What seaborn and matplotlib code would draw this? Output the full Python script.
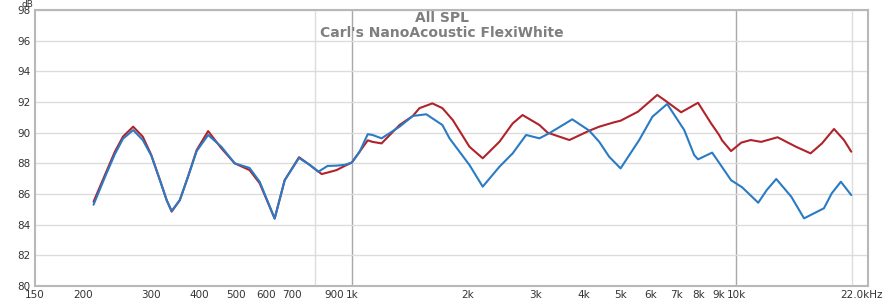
import matplotlib
matplotlib.use("Agg")
import matplotlib.pyplot as plt
import matplotlib.transforms as mtransforms
import seaborn as sns
import pandas as pd

# ---- data ----
red_freq = [213, 228, 242, 254, 270, 286, 301, 317, 330, 340, 357, 375, 395, 423, 458, 496, 542, 576,
            630, 669, 729, 777, 835, 865, 913, 958, 1000, 1048, 1100, 1132, 1195, 1331, 1441, 1500,
            1620, 1720, 1830, 2023, 2190, 2421, 2620, 2780, 3075, 3230, 3680, 4146, 4401, 4800, 5000,
            5550, 6228, 6609, 7186, 7951, 8600, 9020, 9180, 9690, 10300, 10900, 11600, 12800, 14300,
            15600, 16700, 17950, 19050, 19900]
red_db = [85.5, 87.24, 88.76, 89.74, 90.39, 89.74, 88.54, 86.9, 85.6, 84.85, 85.6, 87.13, 88.87, 90.1,
          88.98, 88.0, 87.56, 86.7, 84.4, 86.9, 88.4, 87.9, 87.3, 87.4, 87.56, 87.83, 88.05, 88.76,
          89.5, 89.4, 89.3, 90.5, 91.09, 91.6, 91.91, 91.6, 90.83, 89.08, 88.33, 89.41, 90.6, 91.15,
          90.5, 90.0, 89.52, 90.13, 90.39, 90.67, 90.78, 91.37, 92.46, 92.0, 91.33, 91.95, 90.6,
          89.85, 89.5, 88.8, 89.35, 89.52, 89.4, 89.7, 89.08, 88.65, 89.3, 90.24, 89.52, 88.76]

blue_freq = [213, 228, 242, 254, 270, 286, 301, 317, 330, 340, 357, 375, 395, 423, 458, 496, 542, 576,
             630, 669, 729, 777, 818, 865, 913, 958, 1000, 1048, 1100, 1132, 1195, 1331, 1441, 1562,
             1720, 1795, 2023, 2190, 2421, 2620, 2840, 3075, 3266, 3744, 4146, 4401, 4670, 5000, 5590,
             6050, 6609, 7320, 7770, 7951, 8652, 9690, 10350, 11400, 12000, 12700, 13900, 15000,
             16900, 17700, 18700, 19900]
blue_db = [85.3, 87.1, 88.6, 89.6, 90.17, 89.52, 88.5, 86.9, 85.6, 84.9, 85.6, 87.13, 88.8, 89.85,
           89.08, 88.0, 87.7, 86.8, 84.4, 86.9, 88.35, 87.9, 87.45, 87.83, 87.85, 87.9, 88.05, 88.76,
           89.9, 89.85, 89.63, 90.39, 91.09, 91.2, 90.5, 89.63, 87.89, 86.48, 87.78, 88.65, 89.85,
           89.63, 89.97, 90.87, 90.13, 89.4, 88.43, 87.67, 89.52, 91.04, 91.87, 90.17, 88.54, 88.26,
           88.7, 86.9, 86.44, 85.43, 86.26, 86.98, 85.82, 84.41, 85.07, 86.04, 86.8, 85.93]

series_names = ["Red", "Blue"]
series_colors = ["#b0232a", "#2a7bc4"]

xtick_pos = [150, 200, 300, 400, 500, 600, 700, 900, 1000, 2000, 3000, 4000, 5000, 6000, 7000,
             8000, 9000, 10000, 22000]
xtick_lab = ["150", "200", "300", "400", "500", "600", "700", "900", "1k", "2k", "3k", "4k", "5k",
             "6k", "7k", "8k", "9k", "10k", "22.0kHz"]
xgrid_pos = [200, 300, 400, 500, 600, 700, 800, 900, 1000, 2000, 3000, 4000, 5000, 6000, 7000,
             8000, 9000, 10000, 20000]
ytick_pos = [80, 82, 84, 86, 88, 90, 92, 94, 96, 98]

df = pd.concat([
    pd.DataFrame({"freq": red_freq, "spl": red_db, "series": series_names[0]}),
    pd.DataFrame({"freq": blue_freq, "spl": blue_db, "series": series_names[1]}),
])

sns.set_style("white")
plt.rcParams["font.family"] = ["DejaVu Sans"]

fig = plt.figure(figsize=(8.85, 3.0), dpi=100)
ax = fig.add_axes([35 / 885, 14 / 300, 833 / 885, 276 / 300])

sns.lineplot(data=df, x="freq", y="spl", hue="series", palette=series_colors,
             hue_order=series_names, linewidth=1.5, ax=ax, legend=False, sort=True)

ax.set_xscale("log")
ax.set_xlim(150, 22000)
ax.set_ylim(80, 98)

ax.set_xticks(xtick_pos)
ax.set_xticklabels(xtick_lab)
ax.set_xticks(xgrid_pos, minor=True)
ax.set_xticklabels([], minor=True)
ax.set_yticks(ytick_pos)
ax.set_yticklabels([str(v) for v in ytick_pos])

ax.tick_params(axis="both", which="both", length=0, labelsize=7.5, colors="#333333", pad=3)
ax.grid(False)
ax.grid(True, which="minor", axis="x", color="#dcdcdc", linewidth=1.0)
ax.grid(True, which="major", axis="y", color="#dcdcdc", linewidth=1.0)
ax.set_axisbelow(True)
for v in (1000, 10000):
    ax.axvline(v, color="#a8a8a8", linewidth=1.0, zorder=0.5)

# shift the last label slightly left
lab = ax.get_xticklabels()[-1]
lab.set_transform(lab.get_transform() + mtransforms.ScaledTranslation(-6 / 100, 0, fig.dpi_scale_trans))

for s in ax.spines.values():
    s.set_color("#b8b8b8")
    s.set_linewidth(1.5)

ax.set_xlabel("")
ax.set_ylabel("")

fig.text(27 / 885, 1.0, "dB", fontsize=6.5, color="#333333", ha="center", va="top")
fig.text(442 / 885, 1 - 17.5 / 300, "All SPL", fontsize=10, fontweight="bold", color="#7f7f7f",
         ha="center", va="center")
fig.text(442 / 885, 1 - 33 / 300, "Carl's NanoAcoustic FlexiWhite", fontsize=10,
         fontweight="bold", color="#7f7f7f", ha="center", va="center")

fig.savefig("out.png", dpi=100)
